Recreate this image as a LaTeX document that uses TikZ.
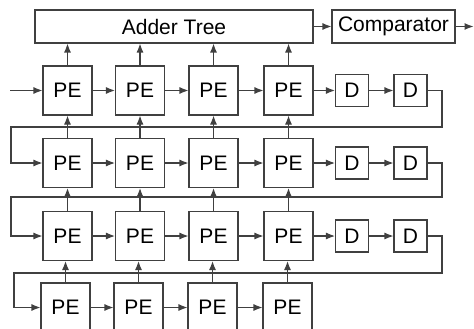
\documentclass[tikz,border=0pt]{standalone}
\usepackage{fontspec}
\setmainfont{Liberation Sans}
\usetikzlibrary{arrows.meta, positioning}

\tikzset{
  pe/.style={draw=black!75, minimum width=49pt, minimum height=49pt, inner sep=0pt},
  dbox/.style={draw=black!75, minimum width=33pt, minimum height=32pt, inner sep=0pt},
  wide/.style={draw=black!75, minimum height=33pt, inner sep=0pt},
  arr/.style={draw=black!75, -{Latex[length=9pt,width=7pt]}},
  wire/.style={draw=black!75}
}

\begin{document}
\begin{tikzpicture}[x=1pt, y=-1pt, line width=1.1pt, font=\fontsize{21}{21}\selectfont]
  \clip (0,0) rectangle (474,329);
  % top blocks
  \node[wide, minimum width=278pt] (adder) at (174,26.5) {Adder Tree};
  \node[wide, minimum width=123pt] (comp) at (393.5,26.5) {Comparator};
  \coordinate (out) at (473.5,26.5);
  \draw[arr] (adder) -- (comp);
  \draw[arr] (comp) -- (out);
  % PE rows with delays
  \foreach \r/\y in {1/90.5,2/163,3/236} {
    \foreach \c/\x in {1/67.5,2/140,3/213.5,4/288.5}
      \node[pe] (pe\r\c) at (\x,\y) {PE};
    \node[dbox] (d\r1) at (352,\y) {D};
    \node[dbox] (d\r2) at (410.5,\y) {D};
    \draw[arr] (pe\r4) -- (d\r1);
    \draw[arr] (d\r1) -- (d\r2);
  }
  % last row
  \foreach \c/\x in {1/65.5,2/138.5,3/212.5,4/287.5}
    \node[pe] (pe4\c) at (\x,307.5) {PE};
  % horizontal links
  \foreach \r in {1,...,4}
    \foreach \c/\n in {1/2,2/3,3/4}
      \draw[arr] (pe\r\c) -- (pe\r\n);
  % vertical links
  \foreach \c in {1,...,4} {
    \draw[arr] (pe1\c.north) -- (pe1\c.north |- adder.south);
    \foreach \r/\n in {1/2,2/3,3/4}
      \draw[arr] (pe\n\c.north) -- (pe\n\c.north |- pe\r\c.south);
  }
  % input
  \coordinate (in) at (10,90.5);
  \draw[arr] (in) -- (pe11);
  % feedback wires
  \foreach \r/\n/\yb/\xl in {1/2/127/11,2/3/197/11,3/4/273/14} {
    \coordinate (fbr\r) at (442,\yb);
    \coordinate (fbl\r) at (\xl,\yb);
    \draw[arr] (d\r2.east) -| (fbr\r) -- (fbl\r) |- (pe\n1.west);
  }
\end{tikzpicture}
\end{document}
